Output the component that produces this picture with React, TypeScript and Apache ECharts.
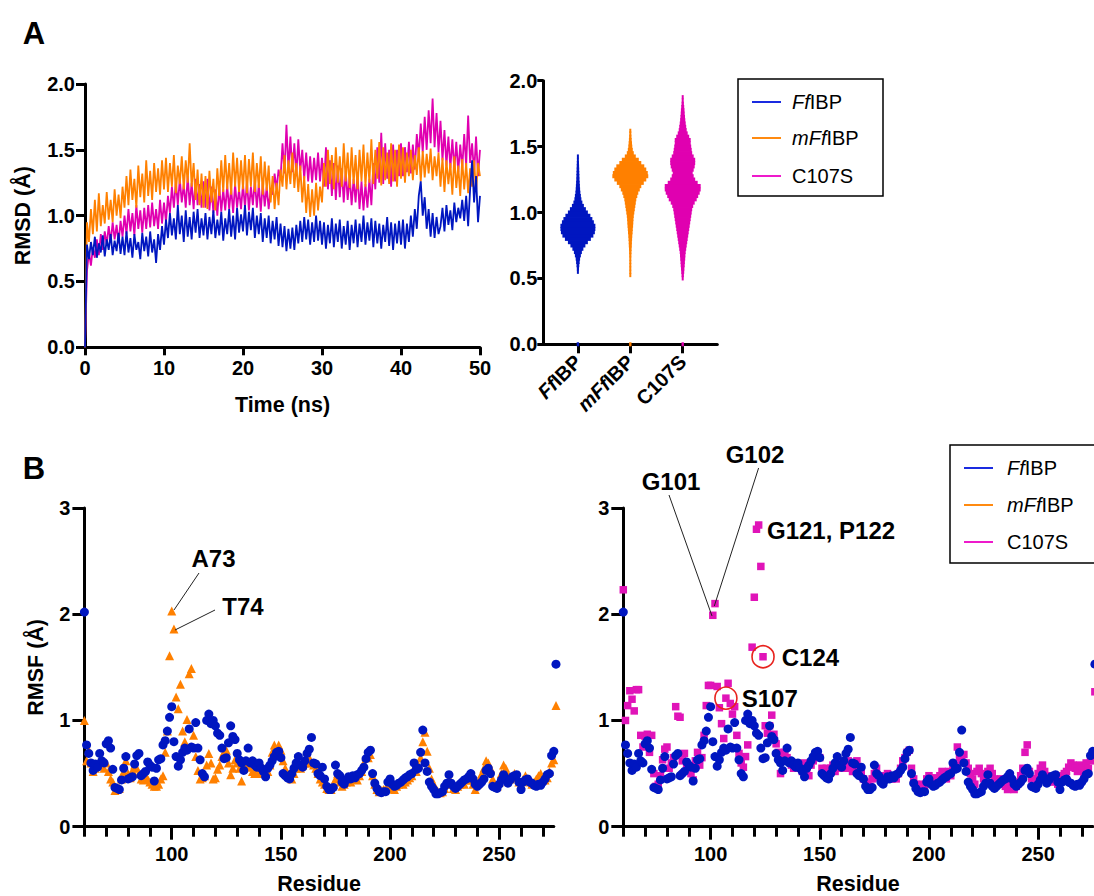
import React, { useEffect, useRef } from 'react';
import * as echarts from 'echarts';

const FONT = "'Liberation Sans', Arial, Helvetica, sans-serif";
const BLUE = '#0016C0';
const ORANGE = '#FF8000';
const MAGENTA = '#E000B0';
const SQ_MAGENTA = '#E014B8';

// ---------- Panel A (RMSD time series), one value every 0.25 ns ----------
const TIME_STEP = 0.25;
const RMSD_FFIBP = [
  0.00, 0.78, 0.67, 0.80, 0.70, 0.84, 0.68, 0.79, 0.72, 0.85, 0.69, 0.82, 0.74, 0.86, 0.70, 0.81, 0.73, 0.87, 0.71, 0.84,
  0.70, 0.88, 0.72, 0.83, 0.68, 0.86, 0.74, 0.80, 0.67, 0.87, 0.73, 0.84, 0.69, 0.88, 0.72, 0.82, 0.64, 0.86, 0.74, 0.92,
  0.78, 0.97, 0.83, 1.02, 0.85, 0.98, 0.82, 1.08, 0.86, 1.00, 0.80, 1.04, 0.84, 0.99, 0.82, 1.03, 0.87, 1.05, 0.83, 0.98,
  0.85, 1.02, 0.82, 0.99, 0.86, 1.04, 0.83, 0.97, 0.85, 1.03, 0.81, 0.98, 0.86, 1.05, 0.84, 1.00, 0.82, 1.06, 0.87, 1.01,
  0.88, 1.08, 0.85, 1.03, 0.89, 1.06, 0.83, 1.00, 0.86, 1.02, 0.80, 0.98, 0.83, 1.00, 0.79, 0.96, 0.82, 0.99, 0.77, 0.94,
  0.76, 0.92, 0.73, 0.90, 0.75, 0.91, 0.74, 0.93, 0.79, 0.96, 0.80, 0.99, 0.82, 0.97, 0.78, 0.95, 0.80, 1.00, 0.81, 0.96,
  0.78, 0.95, 0.75, 0.93, 0.79, 0.98, 0.76, 0.94, 0.80, 0.97, 0.75, 0.92, 0.78, 0.96, 0.74, 0.93, 0.79, 0.97, 0.76, 0.94,
  0.80, 1.00, 0.78, 0.95, 0.81, 0.98, 0.76, 0.96, 0.79, 0.94, 0.75, 0.93, 0.80, 0.99, 0.77, 0.95, 0.74, 0.94, 0.79, 0.96,
  0.78, 0.97, 0.75, 0.94, 0.80, 1.00, 0.84, 1.05, 0.90, 1.15, 1.26, 1.00, 1.14, 0.90, 1.05, 0.84, 1.02, 0.83, 0.99, 0.86,
  0.92, 1.06, 0.88, 1.08, 0.93, 1.04, 0.89, 1.10, 0.95, 1.06, 0.98, 1.12, 0.96, 1.15, 0.92, 1.20, 1.42, 1.10, 1.30, 0.95,
  1.15,
];
const RMSD_MFFIBP = [
  0.00, 0.95, 0.80, 1.05, 0.86, 1.12, 0.88, 1.17, 0.92, 1.08, 0.94, 1.18, 0.97, 1.12, 0.95, 1.20, 1.00, 1.16, 0.98, 1.22,
  1.06, 1.30, 1.08, 1.35, 1.12, 1.28, 1.06, 1.38, 1.14, 1.32, 1.10, 1.42, 1.15, 1.34, 1.12, 1.40, 1.18, 1.36, 1.16, 1.42,
  1.20, 1.44, 1.18, 1.40, 1.22, 1.46, 1.17, 1.38, 1.24, 1.45, 1.20, 1.42, 1.25, 1.55, 1.22, 1.40, 1.12, 1.35, 1.08, 1.32,
  1.06, 1.30, 1.05, 1.34, 1.10, 1.28, 1.04, 1.36, 1.15, 1.42, 1.18, 1.46, 1.20, 1.40, 1.16, 1.48, 1.22, 1.44, 1.18, 1.42,
  1.20, 1.46, 1.17, 1.43, 1.22, 1.48, 1.18, 1.40, 1.21, 1.45, 1.16, 1.41, 1.19, 1.38, 1.10, 1.30, 1.05, 1.25, 1.08, 1.35,
  1.22, 1.46, 1.20, 1.42, 1.24, 1.48, 1.21, 1.40, 1.18, 1.38, 1.10, 1.30, 1.02, 1.24, 0.99, 1.20, 1.00, 1.25, 1.04, 1.22,
  1.10, 1.40, 1.22, 1.50, 1.24, 1.46, 1.20, 1.52, 1.25, 1.45, 1.22, 1.55, 1.26, 1.48, 1.21, 1.52, 1.24, 1.46, 1.20, 1.50,
  1.26, 1.54, 1.22, 1.48, 1.25, 1.58, 1.24, 1.50, 1.28, 1.56, 1.23, 1.52, 1.27, 1.48, 1.24, 1.55, 1.26, 1.50, 1.22, 1.54,
  1.28, 1.52, 1.25, 1.48, 1.30, 1.50, 1.27, 1.46, 1.31, 1.52, 1.26, 1.49, 1.29, 1.47, 1.32, 1.51, 1.27, 1.45, 1.30, 1.48,
  1.22, 1.44, 1.18, 1.42, 1.24, 1.40, 1.16, 1.45, 1.21, 1.38, 1.15, 1.43, 1.20, 1.40, 1.17, 1.36, 1.22, 1.42, 1.18, 1.40,
  1.30,
];
const RMSD_C107S = [
  0.00, 0.58, 0.72, 0.62, 0.76, 0.68, 0.82, 0.70, 0.86, 0.74, 0.88, 0.78, 0.92, 0.80, 0.95, 0.82, 0.93, 0.79, 0.96, 0.84,
  1.00, 0.86, 1.05, 0.88, 1.02, 0.85, 1.08, 0.90, 1.04, 0.87, 1.06, 0.90, 1.08, 0.91, 1.10, 0.92, 1.05, 0.90, 1.12, 0.94,
  1.10, 0.95, 1.15, 1.02, 1.22, 1.06, 1.26, 1.08, 1.28, 1.10, 1.24, 1.06, 1.30, 1.08, 1.25, 1.05, 1.28, 1.08, 1.24, 1.06,
  1.26, 1.06, 1.28, 1.04, 1.22, 1.02, 1.20, 1.00, 1.22, 1.03, 1.20, 1.04, 1.23, 1.05, 1.21, 1.02, 1.24, 1.06, 1.20, 1.05,
  1.24, 1.06, 1.26, 1.04, 1.22, 1.08, 1.27, 1.06, 1.24, 1.03, 1.25, 1.07, 1.22, 1.05, 1.20, 1.16, 1.32, 1.20, 1.35, 1.28,
  1.55, 1.32, 1.69, 1.35, 1.60, 1.33, 1.55, 1.30, 1.58, 1.34, 1.50, 1.28, 1.48, 1.26, 1.45, 1.25, 1.44, 1.27, 1.48, 1.26,
  1.44, 1.22, 1.52, 1.20, 1.42, 1.15, 1.40, 1.12, 1.38, 1.14, 1.36, 1.10, 1.34, 1.12, 1.30, 1.08, 1.28, 1.10, 1.32, 1.05,
  1.26, 1.04, 1.24, 1.06, 1.28, 1.08, 1.40, 1.20, 1.52, 1.25, 1.63, 1.24, 1.55, 1.28, 1.50, 1.22, 1.54, 1.26, 1.50, 1.30,
  1.55, 1.30, 1.52, 1.33, 1.56, 1.32, 1.54, 1.35, 1.62, 1.45, 1.70, 1.48, 1.75, 1.50, 1.80, 1.55, 1.89, 1.52, 1.78, 1.48,
  1.72, 1.42, 1.65, 1.38, 1.60, 1.36, 1.58, 1.35, 1.56, 1.33, 1.54, 1.36, 1.62, 1.38, 1.76, 1.40, 1.55, 1.32, 1.60, 1.30,
  1.50,
];

// ---------- Panel A right: RMSD distributions, [RMSD bin, relative half-width] ----------
const SWARM_CATS = [1, 2, 3];
const SWARM_LABELS = [['Ff', 'IBP'], ['mFf', 'IBP'], ['', 'C107S']];
const SWARM_FFIBP = [
  [0, 1.2], [0.55, 0.8], [0.575, 1.1], [0.6, 1.4], [0.625, 1.8], [0.65, 2.2], [0.675, 3], [0.7, 4], [0.725, 5.5],
  [0.75, 7.5], [0.775, 10], [0.8, 13], [0.825, 15.5], [0.85, 17], [0.875, 17.5], [0.9, 17.5], [0.925, 16],
  [0.95, 14.5], [0.975, 12.5], [1.0, 10], [1.025, 8], [1.05, 6], [1.075, 4.5], [1.1, 3.5], [1.125, 3], [1.15, 2.5],
  [1.175, 2.2], [1.2, 2], [1.225, 1.8], [1.25, 1.6], [1.275, 1.5], [1.3, 1.4], [1.325, 1.3], [1.35, 1.2],
  [1.375, 1.1], [1.4, 1], [1.425, 0.9],
];
const SWARM_MFFIBP = [
  [0, 1.2], [0.525, 0.6], [0.55, 0.6], [0.575, 0.7], [0.6, 0.8], [0.625, 0.9], [0.65, 1], [0.675, 1.1], [0.7, 1.2],
  [0.725, 1.3], [0.75, 1.5], [0.775, 1.6], [0.8, 1.8], [0.825, 2], [0.85, 2.3], [0.875, 2.5], [0.9, 2.8],
  [0.925, 3], [0.95, 3.2], [0.975, 3.5], [1.0, 4], [1.025, 4.5], [1.05, 5], [1.075, 5.5], [1.1, 6], [1.125, 7],
  [1.15, 8], [1.175, 9.5], [1.2, 11], [1.225, 13.5], [1.25, 16], [1.275, 18], [1.3, 17.5], [1.325, 16],
  [1.35, 14], [1.375, 11], [1.4, 8.5], [1.425, 5.5], [1.45, 3.5], [1.475, 2.5], [1.5, 2], [1.525, 1.7],
  [1.55, 1.4], [1.575, 1.2], [1.6, 1], [1.62, 0.8],
];
const SWARM_C107S = [
  [0, 1.2], [0.5, 1], [0.525, 1.2], [0.55, 1.5], [0.575, 1.7], [0.6, 2], [0.625, 2.2], [0.65, 2.5], [0.675, 2.7],
  [0.7, 3], [0.725, 3.5], [0.75, 4], [0.775, 4.5], [0.8, 5], [0.825, 5.5], [0.85, 6], [0.875, 6.5], [0.9, 7],
  [0.925, 7.5], [0.95, 8], [0.975, 8.5], [1.0, 9], [1.025, 9.5], [1.05, 10.5], [1.075, 12], [1.1, 14],
  [1.125, 15.5], [1.15, 17], [1.175, 18], [1.2, 18], [1.225, 15], [1.25, 12.5], [1.275, 11], [1.3, 10],
  [1.325, 11], [1.35, 12], [1.375, 12.5], [1.4, 12.5], [1.425, 11], [1.45, 9.5], [1.475, 9], [1.5, 8.5],
  [1.525, 8], [1.55, 8], [1.575, 6.5], [1.6, 5], [1.625, 4], [1.65, 3.5], [1.675, 3], [1.7, 2.6], [1.725, 2.3],
  [1.75, 2], [1.775, 1.8], [1.8, 1.5], [1.825, 1.2], [1.85, 1], [1.875, 0.8],
];

// ---------- Panel B (RMSF per residue), residues 60..276 ----------
const RESIDUE_START = 60;
const RMSF_FFIBP = [
  2.02,
  0.77, 0.69, 0.60, 0.53, 0.59, 0.56, 0.69, 0.62, 0.60,
  0.78, 0.81, 0.74, 0.54, 0.37, 0.36, 0.35, 0.44, 0.55, 0.66,
  0.45, 0.46, 0.47, 0.59, 0.67, 0.69, 0.48, 0.50, 0.52, 0.61,
  0.58, 0.56, 0.43, 0.55, 0.63, 0.64, 0.77, 0.81, 0.90, 1.03,
  1.13, 0.80, 0.66, 0.57, 0.63, 0.70, 0.74, 0.72, 0.92, 0.75,
  0.74, 0.98, 0.74, 0.63, 0.50, 0.47, 1.00, 1.06, 0.97, 1.00,
  0.95, 0.88, 0.86, 0.74, 0.64, 0.65, 0.79, 0.95, 0.85, 0.82,
  0.69, 0.63, 0.60, 0.53, 0.62, 0.74, 0.60, 0.62, 0.58, 0.56,
  0.60, 0.55, 0.52, 0.47, 0.55, 0.58, 0.62, 0.66, 0.70, 0.71,
  0.65, 0.50, 0.48, 0.46, 0.45, 0.50, 0.55, 0.60, 0.66, 0.58,
  0.56, 0.62, 0.69, 0.73, 0.84, 0.60, 0.59, 0.50, 0.48, 0.56,
  0.45, 0.38, 0.35, 0.35, 0.37, 0.58, 0.50, 0.48, 0.42, 0.40,
  0.44, 0.47, 0.45, 0.48, 0.46, 0.49, 0.50, 0.53, 0.56, 0.64,
  0.70, 0.72, 0.50, 0.41, 0.36, 0.33, 0.32, 0.33, 0.33, 0.42,
  0.45, 0.40, 0.38, 0.39, 0.41, 0.42, 0.44, 0.46, 0.47, 0.49,
  0.50, 0.60, 0.54, 0.55, 0.70, 0.91, 0.60, 0.52, 0.42, 0.38,
  0.35, 0.31, 0.31, 0.32, 0.33, 0.38, 0.41, 0.49, 0.41, 0.38,
  0.36, 0.38, 0.40, 0.42, 0.44, 0.45, 0.47, 0.50, 0.45, 0.40,
  0.38, 0.40, 0.42, 0.45, 0.53, 0.55, 0.50, 0.38, 0.37, 0.36,
  0.40, 0.44, 0.49, 0.45, 0.41, 0.44, 0.47, 0.48, 0.49, 0.42,
  0.35, 0.42, 0.44, 0.45, 0.42, 0.41, 0.39, 0.38, 0.40, 0.39,
  0.42, 0.45, 0.49, 0.50, 0.67, 0.71, 1.53,
];
const RMSF_MFFIBP = [
  1.00,
  0.62, 0.72, 0.60, 0.52, 0.55, 0.58, 0.62, 0.58, 0.55,
  0.60, 0.52, 0.45, 0.42, 0.34, 0.35, 0.36, 0.45, 0.52, 0.62,
  0.50, 0.46, 0.53, 0.58, 0.55, 0.50, 0.45, 0.44, 0.48, 0.45,
  0.42, 0.40, 0.38, 0.38, 0.40, 0.45, 0.48, 0.70, 0.90, 1.61,
  2.03, 1.86, 1.22, 1.11, 1.34, 0.90, 0.80, 1.01, 1.44, 1.49,
  0.86, 0.66, 0.53, 0.45, 0.46, 0.48, 0.58, 0.69, 0.60, 0.45,
  0.46, 0.54, 0.58, 0.66, 0.70, 0.72, 0.60, 0.49, 0.55, 0.63,
  0.60, 0.55, 0.43, 0.55, 0.58, 0.60, 0.56, 0.52, 0.50, 0.55,
  0.52, 0.50, 0.55, 0.50, 0.52, 0.58, 0.70, 0.77, 0.72, 0.77,
  0.72, 0.62, 0.55, 0.50, 0.48, 0.45, 0.50, 0.55, 0.58, 0.55,
  0.58, 0.60, 0.62, 0.65, 0.60, 0.58, 0.55, 0.50, 0.45, 0.42,
  0.40, 0.36, 0.35, 0.35, 0.40, 0.45, 0.50, 0.42, 0.38, 0.40,
  0.42, 0.44, 0.42, 0.45, 0.46, 0.44, 0.48, 0.52, 0.60, 0.66,
  0.65, 0.68, 0.48, 0.40, 0.35, 0.33, 0.34, 0.35, 0.36, 0.38,
  0.40, 0.36, 0.35, 0.38, 0.40, 0.42, 0.40, 0.42, 0.44, 0.46,
  0.48, 0.55, 0.52, 0.58, 0.65, 0.80, 0.89, 0.71, 0.55, 0.45,
  0.40, 0.36, 0.33, 0.32, 0.33, 0.36, 0.40, 0.45, 0.42, 0.36,
  0.35, 0.38, 0.40, 0.42, 0.40, 0.44, 0.48, 0.44, 0.40, 0.35,
  0.40, 0.45, 0.50, 0.55, 0.62, 0.60, 0.55, 0.45, 0.40, 0.38,
  0.42, 0.50, 0.58, 0.55, 0.48, 0.45, 0.48, 0.50, 0.46, 0.42,
  0.40, 0.45, 0.48, 0.44, 0.42, 0.40, 0.42, 0.45, 0.48, 0.50,
  0.46, 0.44, 0.46, 0.52, 0.60, 0.63, 1.14,
];
const RMSF_C107S = [
  2.23,
  1.00, 1.14, 1.28, 1.20, 1.09, 1.29, 1.29, 0.86, 0.75,
  0.85, 0.87, 0.70, 0.86, 0.50, 0.38, 0.40, 0.48, 0.63, 0.73,
  0.75, 0.55, 0.60, 0.65, 1.13, 1.04, 1.03, 0.62, 0.69, 0.58,
  0.55, 0.50, 0.44, 0.62, 0.70, 0.58, 0.65, 0.86, 1.14, 1.33,
  1.33, 1.99, 2.10, 1.32, 1.12, 0.97, 0.83, 1.21, 1.35, 1.16,
  1.06, 1.13, 0.86, 0.69, 0.60, 0.56, 0.66, 0.77, 1.00, 1.69,
  2.16, 2.80, 2.84, 2.45, 1.60, 0.95, 0.88, 0.95, 1.05, 0.87,
  0.78, 0.70, 0.50, 0.67, 0.70, 0.65, 0.62, 0.58, 0.55, 0.60,
  0.58, 0.55, 0.52, 0.60, 0.55, 0.48, 0.58, 0.62, 0.66, 0.70,
  0.65, 0.55, 0.52, 0.55, 0.50, 0.55, 0.58, 0.52, 0.55, 0.58,
  0.60, 0.55, 0.58, 0.62, 0.55, 0.52, 0.60, 0.62, 0.55, 0.50,
  0.45, 0.40, 0.42, 0.38, 0.45, 0.50, 0.55, 0.46, 0.45, 0.42,
  0.48, 0.50, 0.48, 0.45, 0.48, 0.45, 0.50, 0.55, 0.62, 0.65,
  0.70, 0.72, 0.55, 0.45, 0.40, 0.38, 0.36, 0.40, 0.38, 0.45,
  0.48, 0.44, 0.46, 0.42, 0.45, 0.48, 0.52, 0.50, 0.45, 0.52,
  0.48, 0.55, 0.58, 0.75, 0.65, 0.62, 0.68, 0.60, 0.55, 0.50,
  0.45, 0.40, 0.52, 0.55, 0.50, 0.45, 0.48, 0.52, 0.55, 0.50,
  0.45, 0.40, 0.42, 0.45, 0.40, 0.38, 0.35, 0.40, 0.42, 0.35,
  0.38, 0.42, 0.48, 0.55, 0.70, 0.77, 0.52, 0.45, 0.42, 0.45,
  0.50, 0.55, 0.58, 0.52, 0.48, 0.45, 0.42, 0.45, 0.48, 0.40,
  0.44, 0.48, 0.50, 0.52, 0.56, 0.60, 0.58, 0.55, 0.52, 0.58,
  0.55, 0.50, 0.60, 0.55, 0.62, 0.68, 1.27,
];
const HIGHLIGHT_C107S = [[107, 1.21], [124, 1.6]];
const RES_MINOR_TICKS = [60, 70, 80, 90, 100, 110, 120, 130, 140, 150, 160, 170, 180, 190, 200, 210, 220, 230, 240, 250, 260, 270];
const RES_LABEL_TICKS = [100, 150, 200, 250];

const SWARM_UNIT = 1 / 52.5;
const SWARM_BIN = 0.025;

const TICK_FS = 20;
const TITLE_FS = 21.5;
const LEGEND_FS = 20;
const ANN_FS = 24;

const toTime = (arr: number[]) => arr.map((v, i) => [i * TIME_STEP, v]);
const toRes = (arr: number[]) => arr.map((v, i) => [RESIDUE_START + i, v]);

const bold = (size: number) => ({ color: '#000', fontFamily: FONT, fontWeight: 'bold' as const, fontSize: size });

function axisBase(extra: any) {
  return {
    axisLine: { show: true, lineStyle: { color: '#000', width: 3 } },
    splitLine: { show: false },
    ...extra,
  };
}

function swarmSeries(cat: number, bins: number[][], color: string) {
  return {
    type: 'custom',
    xAxisIndex: 1,
    yAxisIndex: 1,
    data: bins.map(([y, w]) => [cat, y, w]),
    encode: { x: 0, y: 1 },
    renderItem: (_p: any, api: any) => {
      const c = api.coord([api.value(0), api.value(1)]);
      const sz = api.size([api.value(2) * SWARM_UNIT, SWARM_BIN]);
      const w = Math.max(2 * sz[0], 2);
      return {
        type: 'rect',
        shape: { x: c[0] - w / 2, y: c[1] - sz[1] / 2 - 0.4, width: w, height: sz[1] + 0.8 },
        style: { fill: color },
      };
    },
    z: 3,
  };
}

const legendRich = {
  i: { fontFamily: FONT, fontSize: LEGEND_FS, fontStyle: 'italic', fill: '#000', color: '#000' },
  r: { fontFamily: FONT, fontSize: LEGEND_FS, fill: '#000', color: '#000' },
};

function legendBlock(x: number, y: number, w: number, h: number, lx: number, ys: number[], tx: number) {
  const names = ['{i|Ff}{r|IBP}', '{i|mFf}{r|IBP}', '{r|C107S}'];
  const cols = ['#1A2BE0', '#FF8A10', '#EE1ACB'];
  const els: any[] = [
    { type: 'rect', shape: { x, y, width: w, height: h }, style: { fill: 'none', stroke: '#000', lineWidth: 1.5 } },
  ];
  ys.forEach((yy, k) => {
    els.push({ type: 'line', shape: { x1: lx, y1: yy, x2: lx + 29, y2: yy }, style: { stroke: cols[k], lineWidth: 2 } });
    els.push({
      type: 'text',
      x: tx,
      y: yy,
      style: { text: names[k], rich: legendRich, verticalAlign: 'middle', textVerticalAlign: 'middle', fontFamily: FONT, fontSize: LEGEND_FS },
    });
  });
  return els;
}

function annText(text: string, x: number, y: number, align: string = 'center') {
  return {
    type: 'text',
    x,
    y,
    style: { text, fill: '#000', font: `bold ${ANN_FS}px ${FONT}`, align, verticalAlign: 'middle', textAlign: align, textVerticalAlign: 'middle' },
    z: 10,
  };
}
function annLine(x1: number, y1: number, x2: number, y2: number) {
  return { type: 'line', shape: { x1, y1, x2, y2 }, style: { stroke: '#222', lineWidth: 1 }, z: 10 };
}

export default function App() {
  const ref = useRef<HTMLDivElement>(null);
  useEffect(() => {
    const chart = echarts.init(ref.current!, null, { renderer: 'svg' });
    const labelStyle = { ...bold(TICK_FS) };
    const option: any = {
      animation: false,
      backgroundColor: '#fff',
      textStyle: { fontFamily: FONT },
      grid: [
        { left: 85, top: 84, width: 395, height: 263.3 },
        { left: 543.3, top: 80.7, width: 174, height: 263.6 },
        { left: 84.4, top: 508, width: 469.4, height: 318.7 },
        { left: 623.3, top: 508, width: 469.4, height: 318.7 },
      ],
      xAxis: [
        axisBase({
          gridIndex: 0, type: 'value', min: 0, max: 50, interval: 10,
          axisTick: { show: true, length: 8, lineStyle: { color: '#000', width: 3 } },
          axisLabel: { ...labelStyle, margin: 11 },
          name: 'Time (ns)', nameLocation: 'middle', nameGap: 47, nameTextStyle: bold(TITLE_FS),
        }),
        axisBase({
          gridIndex: 1, type: 'value', min: 0.34, max: 3.66,
          axisTick: { show: true, length: 9, customValues: SWARM_CATS, lineStyle: { color: '#000', width: 3 } },
          axisLabel: {
            ...labelStyle, margin: 14, rotate: 45, customValues: SWARM_CATS,
            formatter: (v: number) => {
              const l = SWARM_LABELS[Math.round(v) - 1];
              return l ? (l[0] ? `{i|${l[0]}}{b|${l[1]}}` : `{b|${l[1]}}`) : '';
            },
            rich: {
              i: { ...bold(TICK_FS), fontStyle: 'italic' },
              b: { ...bold(TICK_FS) },
            },
          },
        }),
        axisBase({
          gridIndex: 2, type: 'value', min: 60, max: 275,
          axisTick: { show: true, length: 10, customValues: RES_MINOR_TICKS, lineStyle: { color: '#000', width: 3 } },
          axisLabel: { ...labelStyle, margin: 17, customValues: RES_LABEL_TICKS },
          name: 'Residue', nameLocation: 'middle', nameGap: 46, nameTextStyle: bold(TITLE_FS),
        }),
        {
          gridIndex: 2, type: 'value', min: 60, max: 275, position: 'bottom',
          axisLine: { show: false }, splitLine: { show: false }, axisLabel: { show: false },
          axisTick: { show: true, length: 13, customValues: RES_LABEL_TICKS, lineStyle: { color: '#000', width: 3 } },
        },
        axisBase({
          gridIndex: 3, type: 'value', min: 60, max: 275,
          axisTick: { show: true, length: 10, customValues: RES_MINOR_TICKS, lineStyle: { color: '#000', width: 3 } },
          axisLabel: { ...labelStyle, margin: 17, customValues: RES_LABEL_TICKS },
          name: 'Residue', nameLocation: 'middle', nameGap: 46, nameTextStyle: bold(TITLE_FS),
        }),
        {
          gridIndex: 3, type: 'value', min: 60, max: 275, position: 'bottom',
          axisLine: { show: false }, splitLine: { show: false }, axisLabel: { show: false },
          axisTick: { show: true, length: 13, customValues: RES_LABEL_TICKS, lineStyle: { color: '#000', width: 3 } },
        },
      ],
      yAxis: [
        axisBase({
          gridIndex: 0, type: 'value', min: 0, max: 2, interval: 0.5,
          axisTick: { show: true, length: 9, lineStyle: { color: '#000', width: 3 } },
          axisLabel: { ...labelStyle, margin: 10, formatter: (v: number) => v.toFixed(1) },
          name: 'RMSD (Å)', nameLocation: 'middle', nameGap: 51, nameTextStyle: bold(TITLE_FS),
        }),
        axisBase({
          gridIndex: 1, type: 'value', min: 0, max: 2, interval: 0.5,
          axisTick: { show: true, length: 6, lineStyle: { color: '#000', width: 3 } },
          axisLabel: { ...labelStyle, margin: 6, formatter: (v: number) => v.toFixed(1) },
        }),
        axisBase({
          gridIndex: 2, type: 'value', min: 0, max: 3, interval: 1,
          axisTick: { show: true, length: 12, lineStyle: { color: '#000', width: 3 } },
          axisLabel: { ...labelStyle, margin: 14 },
          name: 'RMSF (Å)', nameLocation: 'middle', nameGap: 37, nameTextStyle: bold(TITLE_FS),
        }),
        axisBase({
          gridIndex: 3, type: 'value', min: 0, max: 3, interval: 1,
          axisTick: { show: true, length: 12, lineStyle: { color: '#000', width: 3 } },
          axisLabel: { ...labelStyle, margin: 14 },
        }),
      ],
      series: [
        { name: 'C107S', type: 'line', xAxisIndex: 0, yAxisIndex: 0, data: toTime(RMSD_C107S), showSymbol: false, lineStyle: { color: MAGENTA, width: 1.8 }, itemStyle: { color: MAGENTA } },
        { name: 'mFfIBP', type: 'line', xAxisIndex: 0, yAxisIndex: 0, data: toTime(RMSD_MFFIBP), showSymbol: false, lineStyle: { color: ORANGE, width: 1.8 }, itemStyle: { color: ORANGE } },
        { name: 'FfIBP', type: 'line', xAxisIndex: 0, yAxisIndex: 0, data: toTime(RMSD_FFIBP), showSymbol: false, lineStyle: { color: BLUE, width: 1.8 }, itemStyle: { color: BLUE } },
        swarmSeries(1, SWARM_FFIBP, BLUE),
        swarmSeries(2, SWARM_MFFIBP, ORANGE),
        swarmSeries(3, SWARM_C107S, MAGENTA),
        { name: 'mFfIBP RMSF', type: 'scatter', xAxisIndex: 2, yAxisIndex: 2, data: toRes(RMSF_MFFIBP), symbol: 'triangle', symbolSize: 9, itemStyle: { color: ORANGE, opacity: 1 }, clip: false, z: 3 },
        { name: 'FfIBP RMSF', type: 'scatter', xAxisIndex: 2, yAxisIndex: 2, data: toRes(RMSF_FFIBP), symbol: 'circle', symbolSize: 9, itemStyle: { color: BLUE, opacity: 1 }, clip: false, z: 4 },
        { name: 'C107S RMSF', type: 'scatter', xAxisIndex: 4, yAxisIndex: 3, data: toRes(RMSF_C107S), symbol: 'rect', symbolSize: 7.5, itemStyle: { color: SQ_MAGENTA, opacity: 1 }, clip: false, z: 3 },
        { name: 'FfIBP RMSF 2', type: 'scatter', xAxisIndex: 4, yAxisIndex: 3, data: toRes(RMSF_FFIBP), symbol: 'circle', symbolSize: 9, itemStyle: { color: BLUE, opacity: 1 }, clip: false, z: 4 },
        { name: 'highlight', type: 'scatter', xAxisIndex: 4, yAxisIndex: 3, data: HIGHLIGHT_C107S, symbol: 'circle', symbolSize: 22, itemStyle: { color: 'rgba(0,0,0,0)', borderColor: '#E8231E', borderWidth: 1.6, opacity: 1 }, clip: false, z: 6 },
      ],
      graphic: [
        { type: 'text', x: 34, y: 33, style: { text: 'A', fill: '#000', font: `bold 31px ${FONT}`, align: 'center', verticalAlign: 'middle', textAlign: 'center', textVerticalAlign: 'middle' } },
        { type: 'text', x: 34, y: 468, style: { text: 'B', fill: '#000', font: `bold 31px ${FONT}`, align: 'center', verticalAlign: 'middle', textAlign: 'center', textVerticalAlign: 'middle' } },
        ...legendBlock(738, 79, 145, 117, 752, [102, 138, 176], 792),
        ...legendBlock(950, 445, 200, 118, 964, [468, 505, 542], 1007),
        annText('A73', 213.5, 558),
        annLine(199, 573, 174, 610),
        annText('T74', 243, 606.5),
        annLine(215, 610, 175, 630),
        annText('G101', 671, 481),
        annLine(669, 495, 712, 616),
        annText('G102', 755, 454),
        annLine(758.6, 468, 714.3, 606),
        annText('G121, P122', 767, 530, 'left'),
        annText('C124', 781.7, 657, 'left'),
        annText('S107', 741.7, 698, 'left'),
      ],
    };
    chart.setOption(option);
    return () => chart.dispose();
  }, []);
  return <div ref={ref} style={{ position: 'absolute', left: 0, top: 0, width: 1094, height: 896, background: '#fff' }} />;
}
